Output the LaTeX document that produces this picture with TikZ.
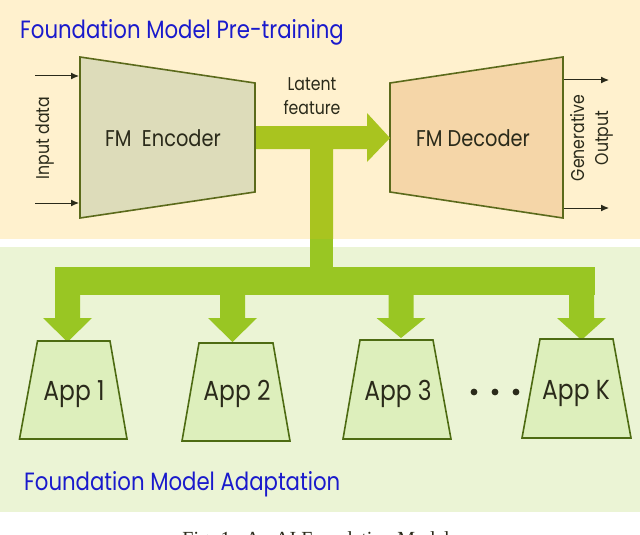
\documentclass[tikz,border=0pt]{standalone}
\usepackage{fontspec}
\newfontfamily\gfont{Poppins}[FakeStretch=0.85]
\newfontfamily\capfont{Liberation Serif}
\usetikzlibrary{arrows.meta}
\definecolor{creambg}{HTML}{FFF1CE}
\definecolor{greenbg}{HTML}{EBF4D5}
\definecolor{encfill}{HTML}{DDDCBA}
\definecolor{decfill}{HTML}{F5D6A8}
\definecolor{appfill}{HTML}{DDEFBC}
\definecolor{olive}{HTML}{5B6A1B}
\definecolor{appline}{HTML}{4D6B12}
\definecolor{arrowup}{HTML}{A9C41F}
\definecolor{arrowlow}{HTML}{99C623}
\definecolor{titleblue}{HTML}{1A1ACC}
\definecolor{txt}{HTML}{2A2A1A}
\tikzset{
  titletext/.style={anchor=base west, text=titleblue, font=\gfont\fontsize{25}{28}\selectfont, inner sep=0pt},
  boxtext/.style={text=txt, font=\gfont\fontsize{22.8}{26}\selectfont, inner sep=0pt},
  smalltext/.style={text=txt, font=\gfont\fontsize{18.5}{24.5}\selectfont, inner sep=0pt, align=center},
  apptext/.style={text=txt, font=\gfont\fontsize{27.5}{30}\selectfont, inner sep=0pt},
  fmbox/.style={draw=olive, line width=1.6pt, line join=miter},
  appbox/.style={draw=appline, fill=appfill, line width=1.6pt},
  thin arrow/.style={draw=txt, line width=1pt, -{Latex[length=8pt,width=7pt]}},
}
\begin{document}
\begin{tikzpicture}[x=1pt,y=-1pt]
\useasboundingbox (0,0) rectangle (640,535);
\clip (0,0) rectangle (640,535);
\fill[white] (0,0) rectangle (640,535);
\fill[creambg] (0,0) rectangle (640,239);
\fill[greenbg] (0,247) rectangle (640,512);
% titles
\node[titletext] (t1) at (20,39) {Foundation Model Pre-training};
\node[titletext] (t2) at (24,490) {Foundation Model Adaptation};
% encoder
\draw[fmbox, fill=encfill] (80,57) -- (255,83) -- (255,192) -- (80,218) -- cycle;
\node[boxtext] (enc) at (163,138) {FM\ \ Encoder};
% decoder
\draw[fmbox, fill=decfill] (390,83) -- (563,57) -- (563,218) -- (390,192) -- cycle;
\node[boxtext] (dec) at (473,138) {FM Decoder};
% input / output arrows
\coordinate (i1s) at (35,76); \coordinate (i1e) at (79,76);
\coordinate (i2s) at (35,203); \coordinate (i2e) at (79,203);
\draw[thin arrow] (i1s) -- (i1e);
\draw[thin arrow] (i2s) -- (i2e);
\node[smalltext, rotate=90] (inp) at (45,138) {Input data};
\coordinate (o1s) at (564,80); \coordinate (o1e) at (609,80);
\coordinate (o2s) at (564,208); \coordinate (o2e) at (609,208);
\draw[thin arrow] (o1s) -- (o1e);
\draw[thin arrow] (o2s) -- (o2e);
\node[smalltext, rotate=90, align=center] (gen) at (592,138) {Generative\\Output};
% latent feature
\node[smalltext, align=center] (lat) at (312,96) {Latent\\feature};
% green arrow upper part
\fill[arrowup] (256,126) -- (367,126) -- (367,113) -- (390,138) -- (367,162) -- (367,149)
  -- (333,149) -- (333,239) -- (310,239) -- (310,149) -- (256,149) -- cycle;
% lower part
\fill[arrowlow] (310,239) rectangle (333,268);
\fill[arrowlow] (55,267) rectangle (595,295);
\foreach \cx/\tip in {67.5/342, 232.5/342, 401/338, 581.5/340}{
  \fill[arrowlow] (\cx-12.5,294) -- (\cx+12.5,294) -- (\cx+12.5,318) -- (\cx+24.5,318)
    -- (\cx,\tip) -- (\cx-24.5,318) -- (\cx-12.5,318) -- cycle;
}
% apps
\draw[appbox] (37.5,341) -- (110,341) -- (127,439) -- (19.5,439) -- cycle;
\node[apptext] (a1) at (74,394) {App 1};
\draw[appbox] (199,343) -- (273,343) -- (290,441) -- (182,441) -- cycle;
\node[apptext] (a2) at (237,394) {App 2};
\draw[appbox] (360,340) -- (433,340) -- (451,439) -- (343,439) -- cycle;
\node[apptext] (a3) at (398,394) {App 3};
\draw[appbox] (540,339) -- (613,339) -- (631,438) -- (522,438) -- cycle;
\node[apptext] (ak) at (576,393) {App K};
\foreach \dx in {474,495,516}{ \fill[txt] (\dx,392) circle (3.4pt); }
% caption (cut off at the lower edge, as in the reference)
\node[anchor=north, inner sep=0pt, font=\capfont\fontsize{20}{24}\selectfont, text=txt] (cap) at (316,531) {Fig. 1.\ \ An AI Foundation Model};
\end{tikzpicture}
\end{document}
